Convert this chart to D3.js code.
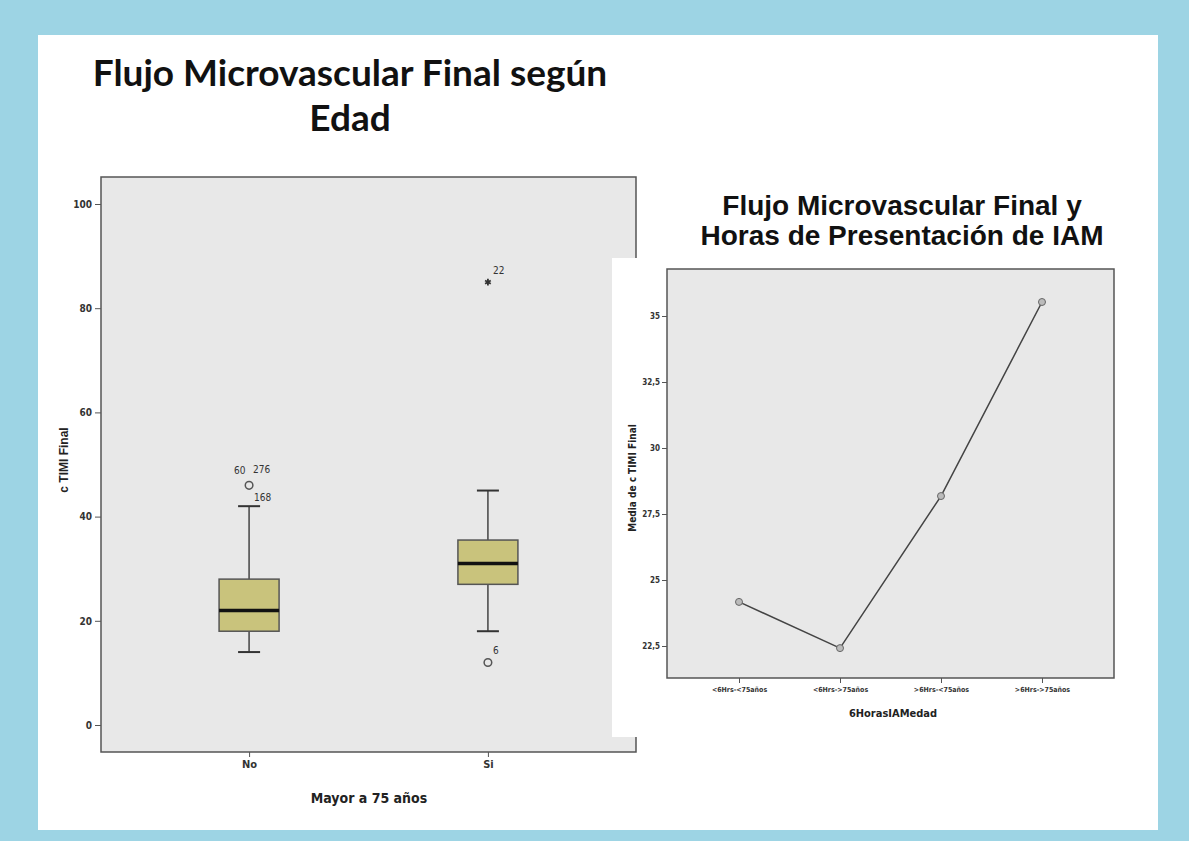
<!DOCTYPE html>
<html lang="es">
<head>
    <meta charset="UTF-8">
    <title>Flujo Microvascular Final</title>
    <script src="https://d3js.org/d3.v7.min.js"></script>
    <style>
        body { margin: 0; background: #9dd4e4; }
        .narrow { font-family: "Liberation Sans Narrow", "DejaVu Sans Condensed", Arial, sans-serif; font-weight: bold; }
        .axis path, .axis line { stroke: #555; }
    </style>
</head>
<body>
    <div id="chart"></div>

    <script>
        // Datos: diagrama de cajas (Mayor a 75 años)
        const groups = ["No", "Si"];
        const whiskerLow = [14, 18];
        const q1 = [18, 27];
        const medians = [22, 31];
        const q3 = [28, 35.5];
        const whiskerHigh = [42, 45];

        // valores atípicos
        const outlierGroups = ["No", "Si", "Si"];
        const outlierValues = [46, 12, 85];
        const outlierKinds = ["circle", "circle", "star"];
        const outlierLabels = [["60", "276", "168"], ["6"], ["22"]];

        const yTicksLeft = [0, 20, 40, 60, 80, 100];

        // Datos: gráfico de líneas (medias)
        const lineCategories = ["<6Hrs-<75años", "<6Hrs->75años", ">6Hrs-<75años", ">6Hrs->75años"];
        const lineMeans = [24.17, 22.42, 28.18, 35.53];
        const yTicksRight = [22.5, 25, 27.5, 30, 32.5, 35];

        const W = 1189, H = 841;
        const svg = d3.select("#chart").append("svg")
            .attr("width", W).attr("height", H);

        // fondo
        svg.append("rect").attr("width", W).attr("height", H).attr("fill", "#9dd4e4");
        svg.append("rect").attr("x", 38).attr("y", 35).attr("width", 1120).attr("height", 795).attr("fill", "#fff");

        // título izquierdo
        const t1 = svg.append("text")
            .attr("x", 350).attr("text-anchor", "middle")
            .style("font-family", "Lato, 'Open Sans', sans-serif")
            .style("font-weight", "bold").style("font-size", "37px").attr("fill", "#111");
        t1.append("tspan").attr("x", 350).attr("y", 86).text("Flujo Microvascular Final según");
        t1.append("tspan").attr("x", 350).attr("y", 131).text("Edad");

        // ---------- diagrama de cajas ----------
        const L = {x0: 101, x1: 636, y0: 177, y1: 752};
        const x = d3.scalePoint().domain(groups).range([L.x0, L.x1]).padding(0.62);
        const y = d3.scaleLinear().domain([0, 100]).range([725, 204]);

        svg.append("rect")
            .attr("x", L.x0).attr("y", L.y0)
            .attr("width", L.x1 - L.x0).attr("height", L.y1 - L.y0)
            .attr("fill", "#e8e8e8").attr("stroke", "#555").attr("stroke-width", 1.5);

        const yAxisL = svg.append("g").attr("class", "axis narrow")
            .attr("transform", `translate(${L.x0},0)`)
            .call(d3.axisLeft(y).tickValues(yTicksLeft).tickSize(6).tickPadding(3));
        yAxisL.select(".domain").remove();
        yAxisL.selectAll("text").style("font-size", "10px").attr("fill", "#333");

        const xAxisL = svg.append("g").attr("class", "axis narrow")
            .attr("transform", `translate(0,${L.y1})`)
            .call(d3.axisBottom(x).tickSize(5).tickPadding(3));
        xAxisL.select(".domain").remove();
        xAxisL.selectAll("text").style("font-size", "11px").attr("fill", "#333");

        svg.append("text").attr("class", "narrow")
            .attr("x", 369).attr("y", 803).attr("text-anchor", "middle")
            .style("font-size", "14px").attr("fill", "#222")
            .text("Mayor a 75 años");

        svg.append("text")
            .attr("transform", "translate(68,460) rotate(-90)")
            .attr("text-anchor", "middle")
            .style("font-family", "'Liberation Sans', Arial, sans-serif")
            .style("font-weight", "bold").style("font-size", "12px").attr("fill", "#222")
            .text("c TIMI Final");

        const boxW = 60, capW = 22;
        groups.forEach((g, i) => {
            const cx = x(g);
            const gg = svg.append("g");
            gg.append("line").attr("x1", cx).attr("x2", cx)
                .attr("y1", y(whiskerHigh[i])).attr("y2", y(q3[i]))
                .attr("stroke", "#444").attr("stroke-width", 1.5);
            gg.append("line").attr("x1", cx).attr("x2", cx)
                .attr("y1", y(q1[i])).attr("y2", y(whiskerLow[i]))
                .attr("stroke", "#444").attr("stroke-width", 1.5);
            [whiskerHigh[i], whiskerLow[i]].forEach(v => {
                gg.append("line").attr("x1", cx - capW / 2).attr("x2", cx + capW / 2)
                    .attr("y1", y(v)).attr("y2", y(v))
                    .attr("stroke", "#333").attr("stroke-width", 2);
            });
            gg.append("rect")
                .attr("x", cx - boxW / 2).attr("y", y(q3[i]))
                .attr("width", boxW).attr("height", y(q1[i]) - y(q3[i]))
                .attr("fill", "#c9c37c").attr("stroke", "#555").attr("stroke-width", 1.5);
            gg.append("line").attr("x1", cx - boxW / 2).attr("x2", cx + boxW / 2)
                .attr("y1", y(medians[i])).attr("y2", y(medians[i]))
                .attr("stroke", "#111").attr("stroke-width", 3.5);
        });

        outlierValues.forEach((v, i) => {
            const cx = x(outlierGroups[i]), cy = y(v);
            if (outlierKinds[i] === "circle") {
                svg.append("circle").attr("cx", cx).attr("cy", cy).attr("r", 3.8)
                    .attr("fill", "none").attr("stroke", "#555").attr("stroke-width", 1.5);
            } else {
                svg.append("path").attr("transform", `translate(${cx},${cy})`)
                    .attr("d", d3.symbol(d3.symbolAsterisk, 30)())
                    .attr("stroke", "#333").attr("stroke-width", 1.8);
            }
            const labs = outlierLabels[i];
            const lab = svg.append("g").attr("class", "narrow")
                .style("font-size", "10px").style("font-weight", "normal").attr("fill", "#333");
            if (labs.length === 3) {
                lab.append("text").attr("x", cx - 15).attr("y", cy - 11).text(labs[0]);
                lab.append("text").attr("x", cx + 4).attr("y", cy - 12).text(labs[1]);
                lab.append("text").attr("x", cx + 5).attr("y", cy + 16).text(labs[2]);
            } else {
                lab.append("text").attr("x", cx + 5).attr("y", cy - 8).text(labs[0]);
            }
        });

        // ---------- panel derecho ----------
        svg.append("rect").attr("x", 612).attr("y", 258).attr("width", 546).attr("height", 479).attr("fill", "#fff");

        const t2 = svg.append("text").attr("text-anchor", "middle")
            .style("font-family", "'Liberation Sans', Arial, sans-serif")
            .style("font-weight", "bold").style("font-size", "28px").attr("fill", "#111");
        t2.append("tspan").attr("x", 902).attr("y", 215).text("Flujo Microvascular Final y");
        t2.append("tspan").attr("x", 902).attr("y", 245).text("Horas de Presentación de IAM");

        const R = {x0: 667, x1: 1114, y0: 269, y1: 678};
        const xr = d3.scalePoint().domain(lineCategories).range([R.x0, R.x1]).padding(0.713);
        const yr = d3.scaleLinear().domain([22.5, 35]).range([646, 316]);
        const es = d3.formatLocale({decimal: ",", thousands: ".", grouping: [3], currency: ["", "€"]});
        const fmt = es.format("~r");

        svg.append("rect")
            .attr("x", R.x0).attr("y", R.y0)
            .attr("width", R.x1 - R.x0).attr("height", R.y1 - R.y0)
            .attr("fill", "#e8e8e8").attr("stroke", "#555").attr("stroke-width", 1.5);

        const yAxisR = svg.append("g").attr("class", "axis narrow")
            .attr("transform", `translate(${R.x0},0)`)
            .call(d3.axisLeft(yr).tickValues(yTicksRight).tickFormat(fmt).tickSize(5).tickPadding(2));
        yAxisR.select(".domain").remove();
        yAxisR.selectAll("text").style("font-size", "8px").attr("fill", "#333");

        const xAxisR = svg.append("g").attr("class", "axis narrow")
            .attr("transform", `translate(0,${R.y1})`)
            .call(d3.axisBottom(xr).tickSize(5).tickPadding(4));
        xAxisR.select(".domain").remove();
        xAxisR.selectAll("text").style("font-size", "7px").attr("fill", "#333");

        svg.append("text").attr("class", "narrow")
            .attr("x", 893).attr("y", 717).attr("text-anchor", "middle")
            .style("font-size", "11px").attr("fill", "#222")
            .text("6HorasIAMedad");

        svg.append("text").attr("class", "narrow")
            .attr("transform", "translate(636,478) rotate(-90)")
            .attr("text-anchor", "middle")
            .style("font-size", "10px").attr("fill", "#222")
            .text("Media de c TIMI Final");

        const line = d3.line()
            .x((d, i) => xr(lineCategories[i]))
            .y(d => yr(d));

        svg.append("path").datum(lineMeans)
            .attr("fill", "none").attr("stroke", "#444").attr("stroke-width", 1.5)
            .attr("d", line);

        svg.selectAll(".pt").data(lineMeans).enter().append("circle")
            .attr("class", "pt")
            .attr("cx", (d, i) => xr(lineCategories[i]))
            .attr("cy", d => yr(d))
            .attr("r", 3.5)
            .attr("fill", "#bbb").attr("stroke", "#666").attr("stroke-width", 1);
    </script>
</body>
</html>
